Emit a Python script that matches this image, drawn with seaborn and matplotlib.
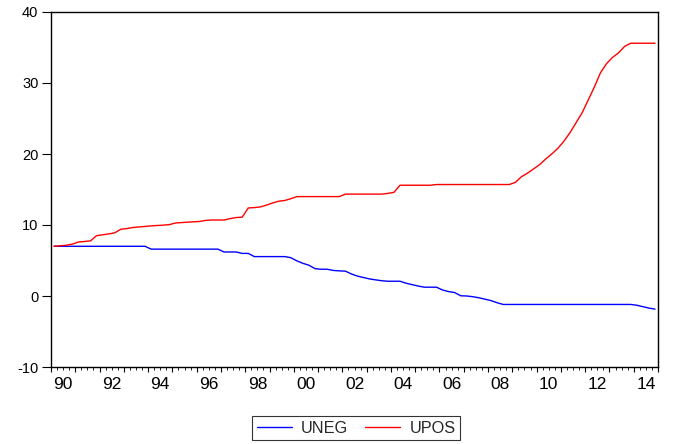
import numpy as np
import pandas as pd
import matplotlib
matplotlib.use("Agg")
import matplotlib.pyplot as plt
import seaborn as sns

# ---- data (quarterly, 1990Q1 - 2014Q4) ----
start_year = 1990
series_names = ["UNEG", "UPOS"]

uneg = ([7.0] * 16 + [6.6] * 12 + [6.2] * 3 + [6.0] * 2 + [5.55] * 6 +
        [5.4, 4.95, 4.6, 4.33, 3.85, 3.77, 3.77, 3.6, 3.54, 3.5,
         3.1, 2.8, 2.6, 2.4, 2.27, 2.15, 2.08, 2.08, 2.08, 1.8,
         1.6, 1.4, 1.24, 1.24, 1.24, 0.85, 0.62, 0.49, 0.03, 0.0,
         -0.1, -0.25, -0.45, -0.65, -0.95] +
        [-1.19] * 22 + [-1.3, -1.5, -1.7, -1.85])

upos = ([7.0, 7.07, 7.15, 7.3, 7.6, 7.68, 7.76, 8.5, 8.62, 8.74,
         8.9, 9.4, 9.5, 9.65, 9.72, 9.8, 9.88, 9.93, 9.98, 10.05,
         10.28, 10.34, 10.4, 10.45, 10.5, 10.65, 10.7, 10.7, 10.7, 10.9,
         11.05, 11.1, 12.4, 12.45, 12.55, 12.8, 13.1, 13.35, 13.45, 13.7] +
        [14.0] * 8 + [14.35] * 7 + [14.45, 14.6] + [15.6] * 6 + [15.7] * 13 +
        [16.0, 16.8, 17.3, 17.9, 18.5, 19.3, 20.0, 20.8, 21.8, 23.0,
         24.4, 25.8, 27.6, 29.4, 31.4, 32.7, 33.6, 34.25, 35.15] +
        [35.6] * 5)

y_ticks = [-10, 0, 10, 20, 30, 40]
x_label_years = list(range(1990, 2015, 2))
x_tick_labels = [f"{y % 100:02d}" for y in x_label_years]

n = len(uneg)
t = start_year + (np.arange(n) + 0.5) / 4.0
df = pd.DataFrame({
    "t": np.concatenate([t, t]),
    "value": np.concatenate([uneg, upos]),
    "series": [series_names[0]] * n + [series_names[1]] * n,
})

# ---- style ----
sns.set_theme(style="white")
plt.rcParams["font.family"] = ["Liberation Sans", "DejaVu Sans"]
plt.rcParams["font.size"] = 11

fig = plt.figure(figsize=(6.79, 4.44), dpi=100)
ax = fig.add_axes([51 / 679, 1 - 367 / 444, 607 / 679, 355 / 444])

sns.lineplot(data=df, x="t", y="value", hue="series",
             palette={"UNEG": "#0000ff", "UPOS": "#ff0000"},
             linewidth=1.0, ax=ax, legend=True)

ax.set_xlim(1990, 2015)
ax.set_ylim(-10, 40)
ax.set_xlabel("")
ax.set_ylabel("")

for s in ax.spines.values():
    s.set_color("black")
    s.set_linewidth(1.0)

ax.set_yticks(y_ticks)
ax.set_yticklabels([str(v) for v in y_ticks], fontsize=10.5, color="black")
ax.tick_params(axis="y", direction="out", length=6.5, width=0.8, pad=2.5,
               colors="black", left=True)

ax.set_xticks(np.arange(1990, 2016, 1))
ax.set_xticklabels([])
ax.set_xticks(np.arange(1990, 2015.01, 0.25), minor=True)
ax.tick_params(axis="x", which="major", direction="out", length=3.6,
               width=0.8, colors="black", bottom=True)
ax.tick_params(axis="x", which="minor", direction="out", length=2.2,
               width=0.6, colors="black", bottom=True)

sec = ax.secondary_xaxis("bottom")
sec.set_xticks([y + 0.5 for y in x_label_years])
sec.set_xticklabels(x_tick_labels, fontsize=12.5, color="black")
sec.tick_params(axis="x", length=0, pad=7.5)
sec.spines["bottom"].set_visible(False)

handles, labels = ax.get_legend_handles_labels()
ax.get_legend().remove()
leg = fig.legend(handles, labels, loc="center",
                 bbox_to_anchor=(356 / 679, 1 - 428 / 444), ncol=2,
                 frameon=True, fancybox=False, edgecolor="black",
                 handlelength=2.2, handletextpad=0.55, columnspacing=1.0,
                 borderpad=0.3, fontsize=11.7)
leg.get_frame().set_linewidth(0.8)

fig.savefig("out.png", dpi=100)
